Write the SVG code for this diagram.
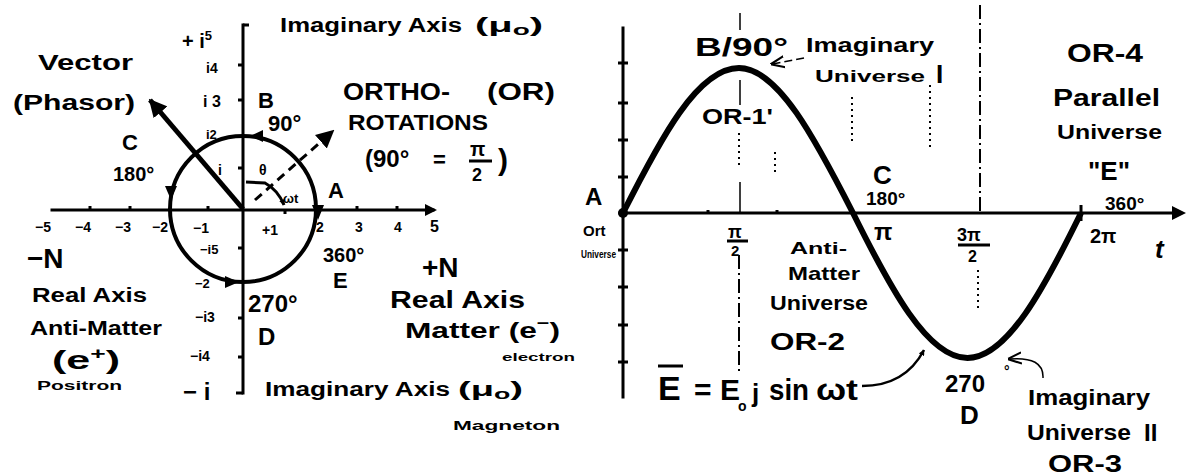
<svg xmlns="http://www.w3.org/2000/svg" width="1189" height="476" viewBox="0 0 1189 476">
<style>
text{font-family:"Liberation Sans","DejaVu Sans",sans-serif;font-weight:bold;fill:#000}
.ax{stroke:#000;stroke-width:3;fill:none;stroke-linecap:square}
.tk{stroke:#000;stroke-width:3;fill:none}
.thin{stroke:#000;stroke-width:1.5;fill:none}
.dot{stroke:#000;stroke-width:2;fill:none;stroke-dasharray:2 4}
.dd{stroke:#000;stroke-width:2;fill:none;stroke-dasharray:14 4 2 4}
.dash{stroke:#000;stroke-width:3;fill:none;stroke-dasharray:9 6}
</style>
<defs>
<marker id="ah" viewBox="0 0 10 10" refX="9" refY="5" markerWidth="6" markerHeight="6" orient="auto" markerUnits="userSpaceOnUse">
<path d="M0,0 L10,5 L0,10 z" fill="#000"/>
</marker>
<marker id="ahb" viewBox="0 0 10 10" refX="9" refY="5" markerWidth="18" markerHeight="18" orient="auto" markerUnits="userSpaceOnUse">
<path d="M0,0 L10,5 L0,10 z" fill="#000"/>
</marker>
<marker id="aho" viewBox="0 0 10 10" refX="9" refY="5" markerWidth="14" markerHeight="14" orient="auto" markerUnits="userSpaceOnUse">
<path d="M0,1 L10,5 L0,9" fill="none" stroke="#000" stroke-width="1.5"/>
</marker>
</defs>

<g id="phasor-axes">
<path class="ax" d="M52,210 L433,210"/>
<path d="M425,204 L437,210 L425,216 z" fill="#000"/>
<path class="ax" d="M243,25 L243,393"/>
<path class="tk" d="M243,25 L249,25 M243,393 L236,393"/>
<path class="tk" d="M90,206 L90,210 M130,206 L130,210 M208,206 L208,210 M285,210 L285,214 M357,206 L357,210 M397,206 L397,210 M238,65 L243,65 M238,100 L243,100 M238,168 L243,168 M238,248 L243,248 M238,318 L243,318 M238,357 L243,357"/>
</g>

<g id="unit-circle">
<circle cx="243" cy="209" r="73" fill="none" stroke="#000" stroke-width="4"/>
<path d="M263,130 L250,136 L263,142 z" fill="#000"/>
<path d="M165,186 L177,186 L171,200 z" fill="#000"/>
<path d="M225,276 L239,282 L225,288 z" fill="#000"/>
<path d="M312,205 L318,220 L324,205 z" fill="#000"/>
</g>

<g id="connectors">
<path d="M243,209 L150,100" stroke="#000" stroke-width="5" fill="none" marker-end="url(#ahb)"/>
<path class="dash" d="M255,200 L333,131" marker-end="url(#ahb)"/>
<path class="tk" d="M246,182 L265,183 Q278,190 284,205" marker-end="url(#ah)"/>
<path d="M804,58 L772,64" stroke="#000" stroke-width="1.5" fill="none" stroke-dasharray="8 4" marker-end="url(#aho)"/>
<path d="M862,386 Q905,386 924,350" stroke="#000" stroke-width="2.5" fill="none" marker-end="url(#ah)"/>
<path d="M1043,378 Q1044,356 1009,359" stroke="#000" stroke-width="1.5" fill="none" marker-end="url(#aho)"/>
</g>

<g id="phasor-labels">
<text x="280" y="32" font-size="20" textLength="182" lengthAdjust="spacingAndGlyphs">Imaginary Axis</text>
<text x="475" y="32" font-size="20" textLength="68" lengthAdjust="spacingAndGlyphs">(μ<tspan font-size="14" dy="3">o</tspan><tspan dy="-3">)</tspan></text>
<text x="182" y="48" font-size="20">+ i<tspan font-size="13" dy="-8">5</tspan></text>
<text x="206" y="73" font-size="14">i4</text>
<text x="203" y="107" font-size="16">i 3</text>
<text x="206" y="139" font-size="13">i2</text>
<text x="218" y="175" font-size="14">i</text>
<text x="259" y="175" font-size="14">θ</text>
<text x="283" y="203" font-size="13">ωt</text>
<text x="38" y="70" font-size="22" textLength="95" lengthAdjust="spacingAndGlyphs">Vector</text>
<text x="13" y="110" font-size="22" textLength="122" lengthAdjust="spacingAndGlyphs">(Phasor)</text>
<text x="122" y="150" font-size="22">C</text>
<text x="113" y="181" font-size="20">180°</text>
<text x="258" y="108" font-size="22">B</text>
<text x="268" y="131" font-size="22">90°</text>
<text x="328" y="198" font-size="22">A</text>
<text x="343" y="100" font-size="24" textLength="107" lengthAdjust="spacingAndGlyphs">ORTHO-</text>
<text x="487" y="100" font-size="24" textLength="68" lengthAdjust="spacingAndGlyphs">(OR)</text>
<text x="348" y="130" font-size="22" textLength="140" lengthAdjust="spacingAndGlyphs">ROTATIONS</text>
<text x="365" y="167" font-size="24">(90°</text>
<text x="433" y="167" font-size="22">=</text>
<text x="470" y="156" font-size="20">π</text>
<path class="tk" d="M469,161 L492,161"/>
<text x="472" y="181" font-size="18">2</text>
<text x="498" y="170" font-size="30" font-weight="normal">)</text>
<text x="35" y="232" font-size="14">−5</text>
<text x="75" y="232" font-size="14">−4</text>
<text x="115" y="232" font-size="14">−3</text>
<text x="152" y="232" font-size="14">−2</text>
<text x="193" y="233" font-size="14">−1</text>
<text x="262" y="235" font-size="14">+1</text>
<text x="316" y="232" font-size="14">2</text>
<text x="355" y="232" font-size="14">3</text>
<text x="394" y="232" font-size="14">4</text>
<text x="430" y="232" font-size="16">5</text>
<text x="200" y="254" font-size="13">−i5</text>
<text x="195" y="288" font-size="13">−2</text>
<text x="195" y="322" font-size="14">−i3</text>
<text x="190" y="361" font-size="14">−i4</text>
<text x="183" y="400" font-size="24">− i</text>
<text x="323" y="262" font-size="20">360°</text>
<text x="333" y="288" font-size="22">E</text>
<text x="422" y="277" font-size="28">+N</text>
<text x="390" y="308" font-size="24" textLength="135" lengthAdjust="spacingAndGlyphs">Real Axis</text>
<text x="405" y="338" font-size="22" textLength="155" lengthAdjust="spacingAndGlyphs">Matter (e<tspan font-size="15" dy="-10">−</tspan><tspan dy="10">)</tspan></text>
<text x="502" y="361" font-size="11" textLength="73" lengthAdjust="spacingAndGlyphs">electron</text>
<text x="265" y="396" font-size="20" textLength="185" lengthAdjust="spacingAndGlyphs">Imaginary Axis</text>
<text x="458" y="396" font-size="20" textLength="65" lengthAdjust="spacingAndGlyphs">(μ<tspan font-size="14" dy="3">o</tspan><tspan dy="-3">)</tspan></text>
<text x="453" y="430" font-size="13" textLength="107" lengthAdjust="spacingAndGlyphs">Magneton</text>
<text x="27" y="268" font-size="28">−N</text>
<text x="32" y="302" font-size="20" textLength="115" lengthAdjust="spacingAndGlyphs">Real Axis</text>
<text x="30" y="335" font-size="20" textLength="132" lengthAdjust="spacingAndGlyphs">Anti-Matter</text>
<text x="52" y="369" font-size="26" textLength="68" lengthAdjust="spacingAndGlyphs">(e<tspan font-size="16" dy="-10">+</tspan><tspan dy="10">)</tspan></text>
<text x="37" y="390" font-size="13" textLength="85" lengthAdjust="spacingAndGlyphs">Positron</text>
<text x="248" y="312" font-size="24">270°</text>
<text x="258" y="345" font-size="24">D</text>
</g>

<g id="sine-axes">
<path class="ax" d="M623,28 L623,397"/>
<path class="ax" d="M620,213 L1178,213"/>
<path d="M1172,206 L1186,213 L1172,220 z" fill="#000"/>
<circle cx="623" cy="213" r="5" fill="#000"/>
<path class="tk" d="M618,63 L628,63 M618,103 L628,103 M618,140 L628,140 M618,177 L628,177 M618,250 L628,250 M618,287 L628,287 M618,325 L628,325 M618,362 L628,362"/>
<path class="tk" d="M1081,205 L1081,221 M708,210 L708,213 M777,210 L777,213"/>
</g>

<g id="sine-wave">
<path d="M623,213 C660.4,138.7 697.8,68 739,68 C777.7,68 815.1,138.7 853,213 C889.9,287.3 927.3,358 967.5,358 C1007.2,358 1044.6,287.3 1081,213" fill="none" stroke="#000" stroke-width="6"/>
</g>

<g id="guides">
<path class="thin" d="M740,13 L740,30 M740,80 L740,105 M740,182 L740,213"/>
<path class="dot" d="M739,133 L739,168"/>
<path class="dd" d="M739,255 L739,372"/>
<path class="dd" d="M980,5 L980,213"/>
<path class="dot" d="M978,270 L978,312"/>
<path class="dot" d="M852,97 L852,145"/>
<path class="dot" d="M775,152 L775,176"/>
<path class="dot" d="M930,85 L930,148"/>
</g>

<g id="sine-labels">
<text x="695" y="56" font-size="26" textLength="93" lengthAdjust="spacingAndGlyphs">B/90°</text>
<text x="806" y="52" font-size="20" textLength="128" lengthAdjust="spacingAndGlyphs">Imaginary</text>
<text x="815" y="82" font-size="17" textLength="110" lengthAdjust="spacingAndGlyphs">Universe</text>
<text x="936" y="83" font-size="26">I</text>
<text x="702" y="124" font-size="22" textLength="71" lengthAdjust="spacingAndGlyphs">OR-1'</text>
<text x="585" y="205" font-size="24">A</text>
<text x="583" y="236" font-size="15">Ort</text>
<text x="581" y="258" font-size="11" textLength="35" lengthAdjust="spacingAndGlyphs">Universe</text>
<text x="873" y="184" font-size="26">C</text>
<text x="866" y="205" font-size="19">180°</text>
<text x="874" y="240" font-size="24">π</text>
<text x="728" y="238" font-size="18">π</text>
<path class="tk" d="M727,241 L748,241"/>
<text x="731" y="256" font-size="15">2</text>
<text x="957" y="241" font-size="18">3π</text>
<path class="tk" d="M958,245 L990,245"/>
<text x="968" y="262" font-size="16">2</text>
<text x="1090" y="243" font-size="20">2π</text>
<text x="1155" y="258" font-size="26" font-style="italic">t</text>
<text x="1067" y="62" font-size="26" textLength="76" lengthAdjust="spacingAndGlyphs">OR-4</text>
<text x="1053" y="106" font-size="24" textLength="107" lengthAdjust="spacingAndGlyphs">Parallel</text>
<text x="1057" y="139" font-size="20" textLength="105" lengthAdjust="spacingAndGlyphs">Universe</text>
<text x="1088" y="180" font-size="26">"E"</text>
<text x="1105" y="210" font-size="19">360°</text>
<text x="790" y="254" font-size="17" textLength="57" lengthAdjust="spacingAndGlyphs">Anti-</text>
<text x="788" y="280" font-size="19" textLength="72" lengthAdjust="spacingAndGlyphs">Matter</text>
<text x="770" y="310" font-size="20" textLength="98" lengthAdjust="spacingAndGlyphs">Universe</text>
<text x="770" y="350" font-size="24" textLength="75" lengthAdjust="spacingAndGlyphs">OR-2</text>
<text x="658" y="400" font-size="34">E</text>
<path class="tk" d="M658,366 L683,366"/>
<text x="694" y="400" font-size="30">=</text>
<text x="720" y="400" font-size="30">E</text>
<text x="738" y="411" font-size="14">o</text>
<text x="752" y="402" font-size="26">j</text>
<text x="769" y="400" font-size="30" textLength="40" lengthAdjust="spacingAndGlyphs">sin</text>
<text x="816" y="400" font-size="30" textLength="42" lengthAdjust="spacingAndGlyphs">ωt</text>
<text x="945" y="392" font-size="24">270</text>
<text x="1004" y="376" font-size="14">°</text>
<text x="960" y="424" font-size="26">D</text>
<text x="1028" y="405" font-size="22" textLength="122" lengthAdjust="spacingAndGlyphs">Imaginary</text>
<text x="1027" y="440" font-size="22" textLength="104" lengthAdjust="spacingAndGlyphs">Universe</text>
<text x="1144" y="441" font-size="24">II</text>
<text x="1048" y="472" font-size="24" textLength="74" lengthAdjust="spacingAndGlyphs">OR-3</text>
</g>
</svg>
